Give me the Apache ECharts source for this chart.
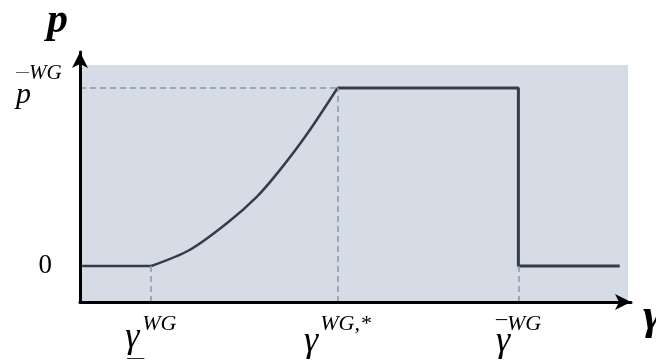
<!DOCTYPE html>
<html>
<head>
<meta charset="utf-8">
<script src="https://cdn.jsdelivr.net/npm/echarts@6/dist/echarts.min.js"></script>
<style>
  html, body { margin: 0; padding: 0; background: #fff; }
  #chart { width: 656px; height: 361px; }
</style>
</head>
<body>
<div id="chart"></div>
<script>
// tick positions on the gamma axis: lower bound, optimum, upper bound
var gammaTicks = [1.3, 4.7, 8.0];
var pTicks = [0, 1];

// price path, split so only the rising part is smoothed
var leftX = [0.04, 1.3];
var leftP = [0, 0];
var curveX = [1.3, 2.0, 2.68, 3.23, 3.65, 4.14, 4.7];
var curveP = [0, 0.09, 0.24, 0.39, 0.54, 0.74, 1];
var stepX = [4.7, 8.0, 8.0, 9.85];
var stepP = [1, 1, 0, 0];

var Y_MIN = -0.2022, Y_MAX = 1.2022, X_MAX = 10.055;
var SHADE_TOP = 1.129, SHADE_RIGHT = 10;

var serif = '"Liberation Serif", "Times New Roman", serif';
var lineColor = '#343c4d';
var dashColor = '#8798b3';

function pairs(xs, ys) {
  return xs.map(function (x, i) { return [x, ys[i]]; });
}

var base = { fontFamily: serif, color: '#000' };
function st(o) { return Object.assign({}, base, o); }

var rich = {
  // gamma tick labels
  g: st({ fontStyle: 'italic', fontSize: 36, width: 16, align: 'left', lineHeight: 18 }),
  gs: st({ fontStyle: 'italic', fontSize: 36, width: 16, align: 'left', lineHeight: 26 }),
  gb: st({ fontStyle: 'italic', fontSize: 36, width: 11, align: 'left', lineHeight: 26 }),
  sup: st({ fontStyle: 'italic', fontSize: 22, width: 34, align: 'left', lineHeight: 10 }),
  supS: st({ fontStyle: 'italic', fontSize: 22, width: 51, align: 'left', lineHeight: 10 }),
  bar: st({ fontSize: 22, width: 11, align: 'left', lineHeight: 10, padding: [0, 0, 10, 0] }),
  ub: st({ fontSize: 17, width: 16, align: 'left', lineHeight: 22, padding: [0, 0, 0, 2] }),
  s11: { width: 11, lineHeight: 4 },
  s16: { width: 16, lineHeight: 4 },
  s34: { width: 34, lineHeight: 4 },
  s51: { width: 51, lineHeight: 4 },
  // p tick labels
  pb: st({ fontSize: 13, width: 13, align: 'left', lineHeight: 15, padding: [0, 0, 4, 0] }),
  psup: st({ fontStyle: 'italic', fontSize: 21, width: 33, align: 'left', lineHeight: 15 }),
  pg: st({ fontStyle: 'italic', fontSize: 30, width: 13, align: 'left', lineHeight: 29 }),
  s13: { width: 13, lineHeight: 4 },
  s33: { width: 33, lineHeight: 4 },
  zero: st({ fontSize: 27, padding: [0, 10, 0, 0] })
};

function gammaLabel(v) {
  if (v === gammaTicks[0]) return '{s16| }{sup|WG}\n{g|γ}{s34| }\n{ub|—}{s34| }';
  if (v === gammaTicks[1]) return '{s16| }{supS|WG,*}\n{gs|γ}{s51| }';
  return '{bar|–}{sup|WG}\n{gb|γ}{s34| }';
}

function pLabel(v) {
  if (v === 0) return '{zero|0}';
  return '{pb|—}{psup|WG}\n{pg|p}{s33| }';
}

var chart = echarts.init(document.getElementById('chart'));

chart.setOption({
  animation: false,
  backgroundColor: '#fff',
  grid: { left: 80, right: 25, top: 52, bottom: 59, outerBoundsMode: 'none', containLabel: false },
  xAxis: {
    type: 'value',
    min: 0,
    max: X_MAX,
    z: 10,
    name: 'γ',
    nameLocation: 'end',
    nameGap: 12,
    nameTextStyle: { fontFamily: serif, fontStyle: 'italic', fontWeight: 'bold', fontSize: 45, color: '#000', verticalAlign: 'top', align: 'left', lineHeight: 30 },
    axisLine: { onZero: false, lineStyle: { color: '#000', width: 3 }, symbol: ['none', 'arrow'], symbolSize: [12, 16] },
    axisTick: { show: false },
    splitLine: { show: false },
    axisLabel: { customValues: gammaTicks, formatter: gammaLabel, rich: rich, margin: 17 }
  },
  yAxis: {
    type: 'value',
    min: Y_MIN,
    max: Y_MAX,
    z: 10,
    name: 'p',
    nameLocation: 'end',
    nameGap: 10,
    nameTextStyle: { fontFamily: serif, fontStyle: 'italic', fontWeight: 'bold', fontSize: 42, color: '#000', align: 'right', padding: [0, 12, 0, 0] },
    axisLine: { onZero: false, lineStyle: { color: '#000', width: 3 }, symbol: ['none', 'arrow'], symbolSize: [12, 16] },
    axisTick: { show: false },
    splitLine: { show: false },
    axisLabel: { customValues: pTicks, formatter: pLabel, rich: rich, margin: 18 }
  },
  series: [
    {
      type: 'line',
      data: pairs(leftX, leftP),
      symbol: 'none',
      lineStyle: { color: lineColor, width: 2.5 },
      z: 3,
      markArea: {
        silent: true,
        itemStyle: { color: '#d6dce5' },
        data: [[{ coord: [0, Y_MIN] }, { coord: [SHADE_RIGHT, SHADE_TOP] }]]
      },
      markLine: {
        silent: true,
        symbol: 'none',
        label: { show: false },
        lineStyle: { color: dashColor, type: [6, 4], width: 1.5 },
        data: [
          [{ coord: [0, 1] }, { coord: [gammaTicks[1], 1] }],
          [{ coord: [gammaTicks[0], Y_MIN] }, { coord: [gammaTicks[0], 0] }],
          [{ coord: [gammaTicks[1], Y_MIN] }, { coord: [gammaTicks[1], 1] }],
          [{ coord: [gammaTicks[2], Y_MIN] }, { coord: [gammaTicks[2], 0] }]
        ]
      }
    },
    {
      type: 'line',
      data: pairs(curveX, curveP),
      symbol: 'none',
      smooth: 0.3,
      lineStyle: { color: lineColor, width: 2.5 },
      z: 3
    },
    {
      type: 'line',
      data: pairs(stepX, stepP),
      symbol: 'none',
      lineStyle: { color: lineColor, width: 3 },
      z: 3
    }
  ]
});
</script>
</body>
</html>
